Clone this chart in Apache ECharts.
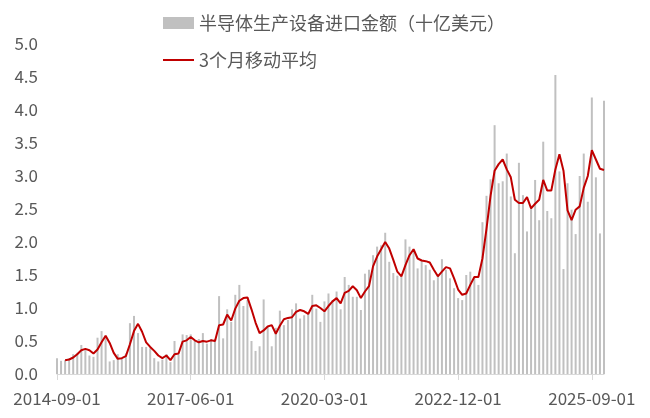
<!DOCTYPE html>
<html>
<head>
<meta charset="utf-8">
<script src="https://cdn.jsdelivr.net/npm/echarts@6/dist/echarts.min.js"></script>
<style>
  html, body { margin: 0; padding: 0; background: #fff; }
  #myChart { width: 650px; height: 418px; }
</style>
</head>
<body>
<div id="myChart"></div>
<script>
// 月度类目 2014-09 ~ 2025-12
var months = [];
for (var y = 2014, m = 9; y < 2026; ) {
  months.push(y + '-' + (m < 10 ? '0' + m : m) + '-01');
  m++;
  if (m > 12) { m = 1; y++; }
}

// 半导体生产设备进口金额（十亿美元）
var importAmount = [
  0.24, 0.20, 0.21, 0.24, 0.30, 0.32, 0.44, 0.37, 0.28, 0.26,
  0.55, 0.65, 0.58, 0.19, 0.21, 0.30, 0.23, 0.31, 0.77, 0.88,
  0.62, 0.41, 0.41, 0.39, 0.24, 0.19, 0.22, 0.30, 0.18, 0.50,
  0.30, 0.60, 0.59, 0.60, 0.50, 0.53, 0.62, 0.46, 0.53, 0.52,
  1.18, 0.54, 0.98, 0.79, 1.20, 1.35, 1.03, 1.12, 0.50, 0.35,
  0.42, 1.13, 0.72, 0.42, 0.70, 0.96, 0.74, 0.82, 0.98, 1.07,
  0.84, 0.89, 0.92, 1.20, 0.99, 0.79, 1.10, 1.22, 1.12, 1.25,
  0.98, 1.47, 1.35, 1.17, 1.17, 0.97, 1.52, 1.58, 1.80, 1.93,
  1.95, 2.14, 1.70, 1.53, 1.49, 1.47, 2.04, 1.93, 1.85, 1.60,
  1.73, 1.65, 1.58, 1.42, 1.49, 1.74, 1.58, 1.45, 1.30, 1.15,
  1.12, 1.50, 1.55, 1.45, 1.35, 2.30, 2.70, 2.95, 3.77, 2.89,
  2.92, 3.34, 2.69, 1.83, 3.20, 2.71, 2.16, 2.55, 2.94, 2.33,
  3.52, 2.47, 2.36, 4.53, 3.07, 1.59, 2.89, 2.49, 2.12, 3.00,
  3.34, 2.61, 4.19, 2.98, 2.13, 4.14
];

// 3个月移动平均（前两个月无值）
var movingAvg = [
  null, null, 0.21, 0.22, 0.25, 0.30, 0.36, 0.38, 0.36, 0.31,
  0.37, 0.48, 0.58, 0.47, 0.32, 0.23, 0.24, 0.27, 0.45, 0.65,
  0.76, 0.64, 0.48, 0.41, 0.35, 0.28, 0.24, 0.28, 0.21, 0.30,
  0.31, 0.49, 0.51, 0.56, 0.51, 0.48, 0.50, 0.49, 0.51, 0.50,
  0.74, 0.75, 0.90, 0.81, 0.99, 1.11, 1.15, 1.16, 0.98, 0.78,
  0.62, 0.66, 0.72, 0.74, 0.61, 0.73, 0.83, 0.85, 0.86, 0.94,
  0.97, 0.95, 0.91, 1.03, 1.04, 1.00, 0.95, 1.03, 1.10, 1.15,
  1.07, 1.23, 1.26, 1.33, 1.27, 1.15, 1.25, 1.33, 1.63, 1.78,
  1.89, 2.00, 1.90, 1.73, 1.55, 1.48, 1.65, 1.80, 1.89, 1.75,
  1.72, 1.71, 1.69, 1.58, 1.48, 1.55, 1.62, 1.60, 1.45, 1.28,
  1.20, 1.22, 1.35, 1.47, 1.47, 1.75, 2.20, 2.70, 3.08, 3.18,
  3.25, 3.10, 2.98, 2.64, 2.59, 2.59, 2.68, 2.51, 2.58, 2.64,
  2.94, 2.78, 2.78, 3.10, 3.33, 3.08, 2.48, 2.33, 2.49, 2.54,
  2.82, 3.00, 3.39, 3.25, 3.11, 3.09
];

var font = "'Noto Sans CJK SC', 'Noto Sans', sans-serif";
var textColor = '#595959';

var myChart = echarts.init(document.getElementById('myChart'));
var option = {
  animation: false,
  backgroundColor: '#fff',
  // 图例
  legend: {
    orient: 'vertical',
    left: 158,
    top: 7,
    itemWidth: 31,
    itemHeight: 12,
    itemGap: 15,
    textStyle: { color: textColor, fontSize: 18, fontFamily: font, lineHeight: 22 },
    data: [
      { name: '半导体生产设备进口金额（十亿美元）', icon: 'rect' },
      // 只画一条细线，不要圆点
      { name: '3个月移动平均', icon: 'path://M0,0 L31,0 L31,2 L0,2 Z' }
    ]
  },
  grid: {
    left: 57,
    right: 46,
    top: 44,
    bottom: 44
  },
  xAxis: {
    type: 'category',
    boundaryGap: false,
    data: months,
    axisLine: { lineStyle: { color: '#d9d9d9', width: 1 } },
    axisTick: { interval: 32, length: 6, lineStyle: { color: '#d9d9d9' } },
    axisLabel: {
      interval: 32,
      margin: 16,
      color: textColor,
      fontSize: 17,
      fontFamily: font
    },
    splitLine: { show: false }
  },
  yAxis: {
    type: 'value',
    min: 0,
    max: 5,
    interval: 0.5,
    axisLine: { show: false },
    axisTick: { show: false },
    splitLine: { show: false },
    axisLabel: {
      margin: 19,
      color: textColor,
      fontSize: 17,
      fontFamily: font,
      formatter: function (v) { return v.toFixed(1); }
    }
  },
  series: [
    {
      name: '半导体生产设备进口金额（十亿美元）',
      type: 'bar',
      data: importAmount,
      barWidth: 2,
      itemStyle: { color: '#c0c0c0' }
    },
    {
      name: '3个月移动平均',
      type: 'line',
      data: movingAvg,
      symbol: 'none',
      lineStyle: { color: '#c00000', width: 2 },
      itemStyle: { color: '#c00000' }
    }
  ]
};
myChart.setOption(option);
</script>
</body>
</html>
